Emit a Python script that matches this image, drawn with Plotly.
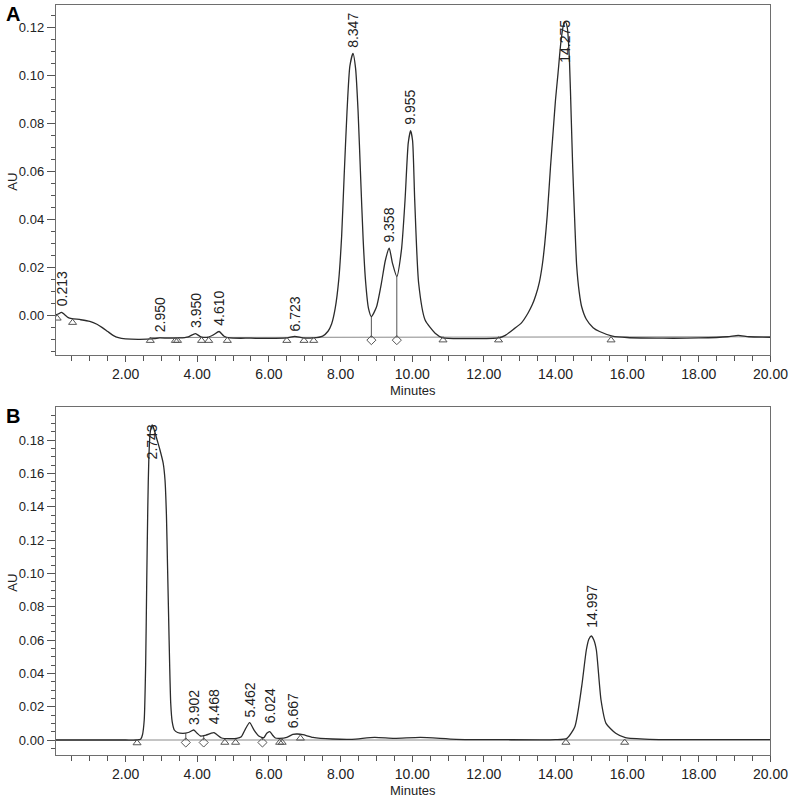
import plotly.graph_objects as go

# ---- panel A chromatogram (minutes, AU) ----
timeA = [0.05, 0.12, 0.213, 0.30, 0.40, 0.50, 0.75, 1.00, 1.20, 1.35, 1.50, 1.65, 1.80, 2.00,
         2.40, 2.80, 2.95, 3.20, 3.50, 3.75, 3.95, 4.10, 4.30, 4.45, 4.61, 4.75, 4.90, 5.50,
         6.00, 6.50, 6.72, 6.95, 7.23, 7.50, 7.65, 7.75, 7.85, 7.95, 8.03, 8.10, 8.18, 8.26,
         8.347, 8.42, 8.49, 8.56, 8.63, 8.70, 8.78, 8.86, 9.00, 9.14, 9.25, 9.358, 9.45,
         9.57, 9.70, 9.80, 9.89, 9.955, 10.01, 10.07, 10.18, 10.36, 10.64, 10.86, 11.50,
         12.40, 12.60, 12.86, 13.05, 13.23, 13.35, 13.45, 13.55, 13.63, 13.70, 13.77, 13.86,
         13.94, 14.00, 14.07, 14.15, 14.22, 14.275, 14.33, 14.39, 14.44, 14.48, 14.54, 14.59,
         14.66, 14.73, 14.86, 15.05, 15.23, 15.59, 16.00, 17.00, 18.00, 18.80, 19.10, 19.40,
         20.00]
auA = [0.0003, 0.0007, 0.0014, 0.0004, -0.0008, -0.0012, -0.0017, -0.0024, -0.0036, -0.0050,
       -0.0066, -0.0082, -0.0092, -0.0097, -0.0099, -0.0096, -0.0093, -0.0094, -0.0093,
       -0.0088, -0.0075, -0.0088, -0.0090, -0.0080, -0.0066, -0.0086, -0.0093, -0.0094,
       -0.0095, -0.0093, -0.0086, -0.0093, -0.0093, -0.0085, -0.0065, -0.0035, 0.0030,
       0.0150, 0.0330, 0.0580, 0.0850, 0.1040, 0.1093, 0.1030, 0.0850, 0.0580, 0.0320,
       0.0140, 0.0030, -0.0004, 0.0035, 0.0135, 0.0230, 0.0281, 0.0218, 0.0163, 0.0274,
       0.0482, 0.0720, 0.0771, 0.0730, 0.0482, 0.0135, -0.0018, -0.0073, -0.0093, -0.0096,
       -0.0093, -0.0082, -0.0053, -0.0030, 0.0010, 0.0045, 0.0085, 0.0140, 0.0210, 0.0300,
       0.0420, 0.0620, 0.0780, 0.0900, 0.1010, 0.1140, 0.1210, 0.1225, 0.1200, 0.1060,
       0.0820, 0.0620, 0.0380, 0.0210, 0.0100, 0.0037, -0.0015, -0.0050, -0.0066, -0.0085,
       -0.0091, -0.0094, -0.0093, -0.0088, -0.0082, -0.0088, -0.0090]
peaksA = ["0.213", "2.950", "3.950", "4.610", "6.723", "8.347", "9.358", "9.955", "14.275"]
labelYA = [0.0031, -0.0077, -0.0060, -0.0052, -0.0073, 0.1110, 0.0295, 0.0788, 0.1045]
triA_t = [0.09, 0.52, 2.69, 3.39, 3.45, 4.12, 4.32, 4.84, 6.50, 6.98, 7.25, 10.86, 12.41, 15.55]
triA_y = [-0.0011, -0.0029, -0.0104, -0.0104, -0.0104, -0.0104, -0.0104, -0.0104, -0.0104,
          -0.0104, -0.0104, -0.0102, -0.0102, -0.0102]
dropA_t = [8.86, 9.57]
dropA_top = [-0.0004, 0.0163]
baseA_t = [2.69, 20.0]
baseA_y = [-0.0091, -0.0088]

# ---- panel B chromatogram ----
timeB = [0.05, 1.00, 2.00, 2.30, 2.42, 2.47, 2.52, 2.56, 2.59, 2.62, 2.65, 2.69, 2.743, 2.80,
         2.88, 2.96, 3.05, 3.10, 3.14, 3.17, 3.20, 3.23, 3.26, 3.30, 3.36, 3.45, 3.60, 3.75,
         3.902, 4.00, 4.09, 4.25, 4.38, 4.468, 4.56, 4.68, 4.90, 5.10, 5.23, 5.34, 5.462,
         5.59, 5.73, 5.86, 5.94, 6.024, 6.10, 6.18, 6.30, 6.50, 6.667, 6.80, 6.95, 7.23,
         7.77, 8.32, 8.95, 9.50, 10.23, 11.23, 12.50, 14.00, 14.32, 14.54, 14.73, 14.86,
         14.93, 14.997, 15.07, 15.14, 15.27, 15.41, 15.68, 15.95, 16.64, 18.00, 20.00]
auB = [0.0000, 0.0000, 0.0000, 0.0000, 0.0004, 0.0030, 0.0120, 0.0450, 0.0950, 0.1400,
       0.1700, 0.1850, 0.1890, 0.1860, 0.1800, 0.1740, 0.1660, 0.1560, 0.1350, 0.1050,
       0.0750, 0.0450, 0.0220, 0.0110, 0.0060, 0.0045, 0.0040, 0.0045, 0.0060, 0.0040,
       0.0024, 0.0030, 0.0040, 0.0044, 0.0030, 0.0012, 0.0008, 0.0010, 0.0020, 0.0064,
       0.0104, 0.0058, 0.0022, 0.0014, 0.0040, 0.0050, 0.0030, 0.0012, 0.0010, 0.0016,
       0.0034, 0.0036, 0.0032, 0.0016, 0.0006, 0.0004, 0.0016, 0.0010, 0.0016, 0.0004,
       0.0002, 0.0002, 0.0010, 0.0080, 0.0320, 0.0540, 0.0605, 0.0624, 0.0600, 0.0540,
       0.0240, 0.0100, 0.0040, 0.0014, 0.0004, 0.0002, 0.0002]
peaksB = ["2.743", "3.902", "4.468", "5.462", "6.024", "6.667", "14.997"]
labelYB = [0.1670, 0.0080, 0.0080, 0.0124, 0.0090, 0.0060, 0.0660]
triB_t = [2.32, 4.77, 5.07, 6.30, 6.37, 6.88, 14.29, 15.93]
triB_y = [-0.0018, -0.0015, -0.0015, -0.0015, -0.0015, 0.0010, -0.0015, -0.0015]
dropB_t = [3.68, 4.18, 5.82]
dropB_top = [0.0040, 0.0026, 0.0018]
baseB_t = [0.05, 20.0]
baseB_y = [0.0, 0.0]

W, H = 809, 799
FONT = "Liberation Sans, Arial, sans-serif"
INK = "#222222"

fig = go.Figure()


def add_panel(fig, xa, ya, t, au, base_t, base_y, tri_t, tri_y, drop_t, drop_top, drop_base, dia_y):
    # integration baseline
    fig.add_trace(go.Scatter(x=base_t, y=base_y, mode="lines", xaxis=xa, yaxis=ya,
                             line=dict(color="#8a8a8a", width=1), hoverinfo="skip"))
    # drop lines at valleys
    for dt, top in zip(drop_t, drop_top):
        fig.add_trace(go.Scatter(x=[dt, dt], y=[drop_base, top], mode="lines", xaxis=xa,
                                 yaxis=ya, line=dict(color="#555555", width=1),
                                 hoverinfo="skip"))
    # signal
    fig.add_trace(go.Scatter(x=t, y=au, mode="lines", xaxis=xa, yaxis=ya,
                             line=dict(color="#2b2b2b", width=1.3, shape="spline",
                                       smoothing=0.6)))
    # integration markers
    fig.add_trace(go.Scatter(x=tri_t, y=tri_y, mode="markers", xaxis=xa, yaxis=ya,
                             marker=dict(symbol="triangle-up-open", size=7,
                                         color="#555555", line=dict(width=1))))
    fig.add_trace(go.Scatter(x=drop_t, y=[dia_y] * len(drop_t),
                             mode="markers", xaxis=xa, yaxis=ya,
                             marker=dict(symbol="diamond-open", size=7, color="#555555",
                                         line=dict(width=1))))


add_panel(fig, "x", "y", timeA, auA, baseA_t, baseA_y, triA_t, triA_y, dropA_t, dropA_top,
          -0.0090, -0.0102)
add_panel(fig, "x2", "y2", timeB, auB, baseB_t, baseB_y, triB_t, triB_y, dropB_t, dropB_top,
          0.0, -0.0015)

annotations = []
for lab, ly in zip(peaksA, labelYA):
    annotations.append(dict(x=float(lab), y=ly, xref="x", yref="y", text=lab, textangle=-90,
                            showarrow=False, xanchor="center", yanchor="bottom",
                            font=dict(size=14, color=INK, family=FONT)))
for lab, ly in zip(peaksB, labelYB):
    annotations.append(dict(x=float(lab), y=ly, xref="x2", yref="y2", text=lab, textangle=-90,
                            showarrow=False, xanchor="center", yanchor="bottom",
                            font=dict(size=14, color=INK, family=FONT)))


def paper_text(txt, px, py, size, angle=0, color=INK):
    return dict(x=px / W, y=1 - py / H, xref="paper", yref="paper", text=txt,
                textangle=angle, showarrow=False, xanchor="center", yanchor="middle",
                font=dict(size=size, color=color, family=FONT))


# panel letters, axis titles
annotations += [paper_text("<b>A</b>", 13, 14, 20, color="#000000"),
                paper_text("<b>B</b>", 13, 416, 20, color="#000000")]
annotations += [paper_text("AU", 12, 182, 13, -90), paper_text("AU", 12, 583, 13, -90)]
annotations += [paper_text("Minutes", 422.5, 390, 13), paper_text("Minutes", 422.5, 790, 13)]

xticks = [2, 4, 6, 8, 10, 12, 14, 16, 18, 20]
xaxis_common = dict(range=[0.05, 20], tickvals=xticks, ticktext=["%.2f" % v for v in xticks],
                    showline=True, linecolor="#6e6e6e", linewidth=1, mirror=True,
                    ticks="outside", ticklen=6, tickcolor="#555555", showgrid=False,
                    zeroline=False, tickfont=dict(size=14, color=INK, family=FONT),
                    minor=dict(ticks="outside", ticklen=5, tick0=0, dtick=0.5,
                               tickcolor="#555555", showgrid=False))
xdom = [57 / W, 788 / W]

fig.update_layout(
    width=W, height=H,
    margin=dict(l=0, r=0, t=0, b=0),
    paper_bgcolor="white", plot_bgcolor="white",
    showlegend=False,
    annotations=annotations,
    xaxis=dict(domain=xdom, anchor="y", **xaxis_common),
    xaxis2=dict(domain=xdom, anchor="y2", **xaxis_common),
    yaxis=dict(domain=[1 - 355 / H, 1 - 5 / H], anchor="x", range=[-0.0164, 0.1295],
               tickvals=[0, 0.02, 0.04, 0.06, 0.08, 0.10, 0.12], tickformat=".2f",
               showline=True, linecolor="#6e6e6e", linewidth=1, mirror=True,
               ticks="outside", ticklen=8, tickcolor="#555555", showgrid=False, zeroline=False,
               tickfont=dict(size=13, color=INK, family=FONT),
               minor=dict(ticks="outside", ticklen=4, tick0=0, dtick=0.005,
                          tickcolor="#555555", showgrid=False)),
    yaxis2=dict(domain=[1 - 755 / H, 1 - 407 / H], anchor="x2", range=[-0.0090, 0.1998],
                tickvals=[0, 0.02, 0.04, 0.06, 0.08, 0.10, 0.12, 0.14, 0.16, 0.18],
                tickformat=".2f",
                showline=True, linecolor="#6e6e6e", linewidth=1, mirror=True,
                ticks="outside", ticklen=8, tickcolor="#555555", showgrid=False, zeroline=False,
                tickfont=dict(size=13, color=INK, family=FONT),
                minor=dict(ticks="outside", ticklen=4, tick0=0, dtick=0.005,
                           tickcolor="#555555", showgrid=False)),
)

# drop the browser's default page margin so the figure sits at the window's corner
fig.write_html("out.html", config={"displayModeBar": False},
               post_script="document.body.style.margin = '0px';")
